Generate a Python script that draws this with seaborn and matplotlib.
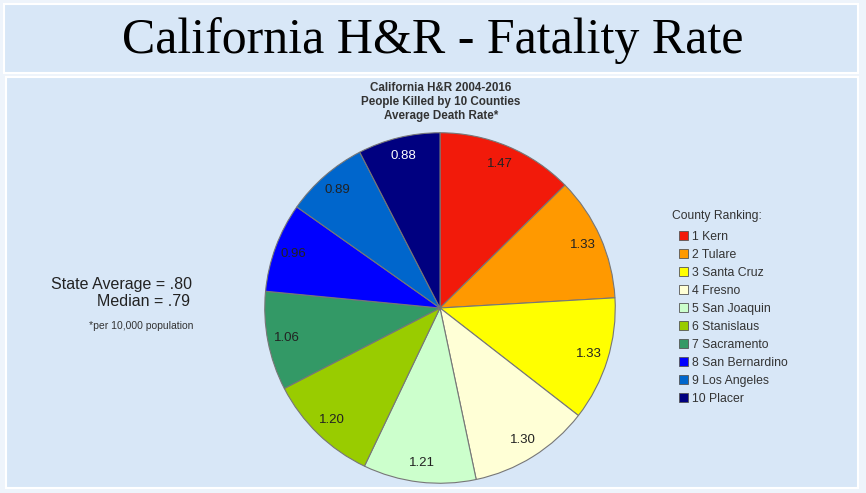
import matplotlib
matplotlib.use('Agg')
import matplotlib.pyplot as plt
import seaborn as sns
from matplotlib.patches import Patch, Rectangle

# Data
counties = ['1 Kern', '2 Tulare', '3 Santa Cruz', '4 Fresno', '5 San Joaquin',
            '6 Stanislaus', '7 Sacramento', '8 San Bernardino', '9 Los Angeles', '10 Placer']
death_rates = [1.47, 1.33, 1.33, 1.30, 1.21, 1.20, 1.06, 0.96, 0.89, 0.88]
slice_colors = ['#f21a0a', '#ff9900', '#ffff00', '#ffffd6', '#ccffcc',
                '#99cc00', '#339966', '#0000ff', '#0066cc', '#000080']

sns.set_style('white')
plt.rcParams['font.family'] = ['Liberation Sans', 'DejaVu Sans']
palette = sns.color_palette(slice_colors)

fig = plt.figure(figsize=(8.66, 4.93), dpi=100)
fig.patch.set_facecolor('#eef4fb')

# background panels (title band and chart area)
panel_color = '#d8e7f7'
fig.patches.append(Rectangle((4 / 866, 1 - 73 / 493), 854 / 866, 69 / 493, transform=fig.transFigure,
                             facecolor=panel_color, edgecolor='white', linewidth=1.5, zorder=-1))
fig.patches.append(Rectangle((6 / 866, 1 - 488 / 493), 852 / 866, 411 / 493, transform=fig.transFigure,
                             facecolor=panel_color, edgecolor='white', linewidth=1.5, zorder=-1))

fig.text(0.5, 1 - 41 / 493, 'California H&R - Fatality Rate', ha='center', va='center',
         family='Liberation Serif', fontsize=36, color='black')

fig.text(441 / 866, 1 - 102 / 493, 'California H&R 2004-2016\nPeople Killed by 10 Counties\nAverage Death Rate*',
         ha='center', va='center', fontsize=8.4, fontweight='bold', color='#333333', linespacing=1.25)

# pie chart
ax = fig.add_axes([263 / 866, 8 / 493, 354 / 866, 354 / 493])
ax.set_zorder(2)
total = sum(death_rates)
wedges, texts, autotexts = ax.pie(death_rates, colors=palette, startangle=90, counterclock=False,
                                  autopct=lambda p: f'{p * total / 100:.2f}', pctdistance=0.89,
                                  wedgeprops=dict(edgecolor='#777777', linewidth=0.8),
                                  textprops=dict(fontsize=9.5, color='#222222'))
autotexts[-1].set_color('white')
ax.set_xlim(-1.01, 1.01)
ax.set_ylim(-1.01, 1.01)
ax.set_aspect('equal')
ax.patch.set_visible(False)

# left side notes
fig.text(192 / 866, 1 - 284 / 493, 'State Average = .80', ha='right', va='center', fontsize=11.5, color='#222222')
fig.text(190 / 866, 1 - 302 / 493, 'Median = .79', ha='right', va='center', fontsize=11.5, color='#222222')
fig.text(141 / 866, 1 - 326 / 493, '*per 10,000 population', ha='center', va='center', fontsize=7.5, color='#333333')

# legend
fig.text(672 / 866, 1 - 216 / 493, 'County Ranking:', ha='left', va='center', fontsize=8.7, color='#333333')
handles = [Patch(facecolor=c, edgecolor='#555555', linewidth=0.6) for c in palette]
fig.legend(handles, counties, loc='upper left', bbox_to_anchor=(679 / 866, 1 - 231 / 493),
           frameon=False, fontsize=8.8, labelcolor='#333333', handlelength=0.75, handleheight=0.75,
           handletextpad=0.3, labelspacing=0.49, borderpad=0, borderaxespad=0)

plt.savefig('out.png', dpi=100, facecolor=fig.get_facecolor())
